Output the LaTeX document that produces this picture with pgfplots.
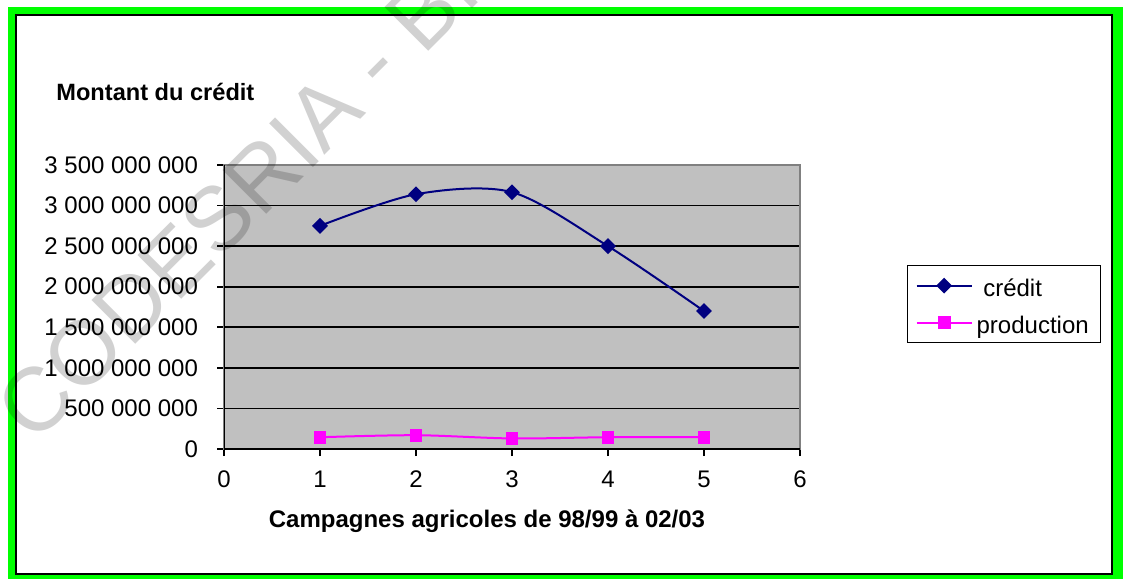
\documentclass[border=0pt]{standalone}
\usepackage{fontspec}
\setmainfont{Liberation Sans}
\usepackage{pgfplots}
\pgfplotsset{compat=1.18}
\definecolor{navyc}{RGB}{0,0,128}
\definecolor{magc}{RGB}{255,0,255}
\definecolor{plotgray}{RGB}{192,192,192}
\definecolor{bordergreen}{RGB}{0,255,0}
\definecolor{edgegray}{RGB}{128,128,128}
\begin{document}
\begin{tikzpicture}
\useasboundingbox (0pt,0pt) rectangle (563.5pt,289pt);
\fill[white] (0pt,0pt) rectangle (563.5pt,289pt);
\fill[bordergreen] (4pt,-5pt) rectangle (561.5pt,285.5pt);
\filldraw[fill=white, draw=black, line width=1pt] (8pt,2pt) rectangle (556pt,281.25pt);
\begin{axis}[
  at={(112pt,64.5pt)}, anchor=south west,
  scale only axis, width=288pt, height=142pt,
  xmin=0, xmax=6, ymin=0, ymax=3500000000,
  xtick={0,1,2,3,4,5,6},
  xticklabels={0,1,2,3,4,5,6},
  ytick={0,500000000,1000000000,1500000000,2000000000,2500000000,3000000000,3500000000},
  yticklabels={0,500 000 000,1 000 000 000,1 500 000 000,2 000 000 000,2 500 000 000,3 000 000 000,3 500 000 000},
  scaled ticks=false,
  axis background/.style={fill=plotgray},
  axis line style={draw=edgegray, line width=0.8pt},
  ymajorgrids, grid style={black, line width=0.9pt},
  tick pos=left, tick align=outside, major tick length=3.5pt,
  tick style={black, line width=0.8pt},
  tick label style={font=\fontsize{12}{14}\selectfont},
  yticklabel shift=6pt,
  xticklabel shift=4pt,
  xlabel={Campagnes agricoles de 98/99 à 02/03},
  xlabel style={font=\bfseries\fontsize{12}{14}\selectfont, at={(axis description cs:0.4566,0)}, anchor=base, yshift=-39pt},
  ylabel={Montant du crédit},
  ylabel style={rotate=-90, font=\bfseries\fontsize{11.8}{14}\selectfont, at={(axis description cs:-0.29167,1.2289)}, anchor=base west, inner sep=0pt},
  legend style={at={(axis description cs:1.1858,0.6479)}, anchor=north west, draw=black, line width=0.6pt, fill=white,
    font=\fontsize{12}{14}\selectfont, inner xsep=4pt, inner ysep=0pt, row sep=-1.5pt,
    nodes={inner sep=2pt, text height=13.5pt, text depth=2.5pt}},
  legend cell align=left,
  legend image code/.code={\draw[mark repeat=2,mark phase=2,#1] plot coordinates {(0pt,0pt) (13.75pt,0pt) (27.5pt,0pt)};},
]
\addplot[navyc, line width=1pt, smooth, mark=square*, mark size=2.3pt, mark options={rotate=45, solid, fill=navyc}]
  coordinates {(1,2750000000) (2,3140000000) (3,3165000000) (4,2500000000) (5,1700000000)};
\addlegendentry{\ crédit}
\addplot[magc, line width=1pt, smooth, mark=square*, mark size=2.7pt, mark options={solid, fill=magc}]
  coordinates {(1,145000000) (2,170000000) (3,130000000) (4,145000000) (5,145000000)};
\addlegendentry{production}
\draw[black, line width=1pt] (rel axis cs:0,1) -- (rel axis cs:0,0) -- (rel axis cs:1,0);
\end{axis}
\begin{scope}
\clip (0pt,0pt) rectangle (563.5pt,289pt);
\node[rotate=45, anchor=base west, inner sep=0pt, font=\fontsize{45}{50}\selectfont, text=black, opacity=0.18] at (17.25pt,66.15pt) {CODESRIA - BIBLIOTHEQUE};
\end{scope}
\end{tikzpicture}
\end{document}
